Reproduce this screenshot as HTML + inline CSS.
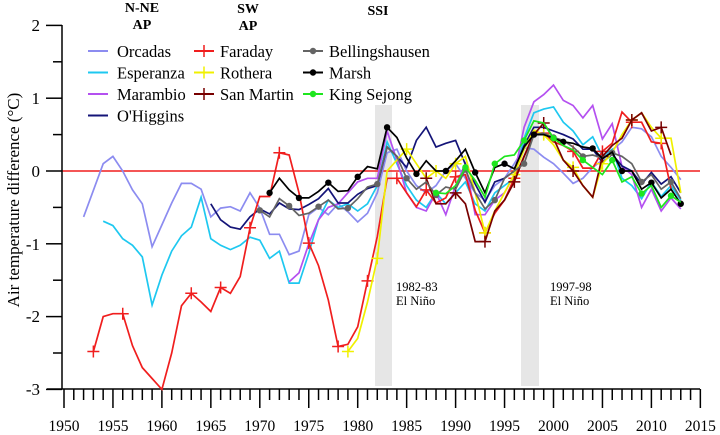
<!DOCTYPE html>
<html><head><meta charset="utf-8"><style>
html,body{margin:0;padding:0;background:#fff;}
svg{display:block;font-family:"Liberation Serif",serif;}
</style></head><body>
<svg id="s" width="720" height="435" viewBox="0 0 720 435" xmlns="http://www.w3.org/2000/svg">
<rect x="0" y="0" width="720" height="435" fill="#fff"/>
<rect x="375" y="105" width="17" height="281" fill="#e6e6e6"/>
<rect x="521" y="105" width="18" height="281" fill="#e6e6e6"/>
<line x1="62" y1="171" x2="700" y2="171" stroke="#f01e1e" stroke-width="1.5"/>
<g id="axes" stroke="#000" stroke-width="1.5" fill="none"></g>
<g id="series"></g>
<g font-size="17" text-anchor="end" fill="#000">
<text x="40" y="31">2</text><text x="40" y="104">1</text><text x="40" y="177">0</text>
<text x="40" y="250">-1</text><text x="40" y="322">-2</text><text x="40" y="395">-3</text>
</g>
<g id="xl" font-size="15.5" text-anchor="middle" fill="#000"></g>
<text transform="translate(19,200) rotate(-90)" font-size="17" text-anchor="middle">Air temperature difference (°C)</text>
<g font-size="14" font-weight="bold" text-anchor="middle">
<text x="142" y="12">N-NE</text><text x="142" y="29">AP</text>
<text x="248" y="13">SW</text><text x="248" y="30">AP</text>
<text x="378" y="15">SSI</text>
</g>
<g font-size="12.5">
<text x="396" y="291">1982-83</text><text x="396" y="305">El Niño</text>
<text x="550" y="291">1997-98</text><text x="550" y="305">El Niño</text>
</g>
<g id="leg" font-size="16.5"></g>
</svg>
<script>
var NS="http://www.w3.org/2000/svg";
function X(y){return 64+9.79*(y-1950);}
function Y(v){return 171-72.8*v;}
function el(t,a,p){var e=document.createElementNS(NS,t);for(var k in a)e.setAttribute(k,a[k]);p.appendChild(e);return e;}
var ax=document.getElementById('axes');
el('line',{x1:62,y1:25,x2:62,y2:389},ax);
el('line',{x1:47,y1:389,x2:700,y2:389},ax);
for(var v=-3;v<=2;v+=0.5){var maj=(v%1===0);el('line',{x1:maj?46:53,y1:Y(v),x2:62,y2:Y(v)},ax);}
var xl=document.getElementById('xl');
for(var yr=1950;yr<=2015;yr++){var m=(yr%5===0);el('line',{x1:X(yr),y1:389,x2:X(yr),y2:m?408:400},ax);
 if(m){var t=el('text',{x:X(yr),y:431},xl);t.textContent=yr;}}
function ser(start,vals){return vals.map(function(v,i){return [start+i,v];});}
var S=[
{c:"#8c8cf0",m:"",d:[[1952,-0.63],[1954,0.1],[1955,0.2],[1956,0],[1957,-0.26],[1958,-0.45],[1959,-1.04],[1960,-0.74],[1961,-0.44],[1962,-0.17],[1963,-0.17],[1964,-0.25],[1965,-0.63],[1966,-0.51],[1967,-0.49],[1968,-0.55],[1969,-0.3],[1970,-0.51],[1971,-0.87],[1972,-0.87],[1973,-1.15],[1974,-1.1],[1975,-0.6],[1976,-0.5],[1977,-0.6],[1978,-0.45],[1979,-0.56],[1980,-0.7],[1981,-0.58],[1982,-0.3],[1983,0.25],[1984,0.3],[1985,0.0],[1986,-0.2],[1987,-0.3],[1988,-0.2],[1989,0.0],[1990,0.1],[1991,-0.1],[1992,-0.3],[1993,-0.4],[1994,-0.2],[1995,-0.1],[1996,0.1],[1997,0.32],[1998,0.3],[1999,0.19],[2000,0.1],[2001,-0.03],[2002,-0.17],[2003,-0.1],[2004,0.05],[2005,0.15],[2006,0.29],[2007,0.4],[2008,0.6],[2009,0.58],[2010,0.47],[2011,0.2],[2012,0.05],[2013,-0.12]]},
{c:"#1ec8f0",m:"",d:ser(1954,[-0.69,-0.75,-0.93,-1.02,-1.18,-1.84,-1.43,-1.1,-0.89,-0.77,-0.36,-0.93,-1.02,-1.08,-1.02,-0.91,-0.95,-1.2,-1.1,-1.54,-1.54,-1.13,-0.67,-0.4,-0.5,-0.45,-0.55,-0.45,-0.2,0.4,0.1,-0.2,-0.4,-0.5,-0.3,-0.45,-0.3,-0.15,-0.45,-0.55,-0.3,-0.2,-0.1,0.45,0.8,0.85,0.88,0.67,0.55,0.36,0.47,0.2,0.3,-0.1,-0.2,-0.38,-0.15,-0.35,-0.2,-0.4])},
{c:"#b450f0",m:"",d:ser(1973,[-1.52,-1.4,-1.0,-0.67,-0.5,-0.45,-0.3,-0.15,-0.1,-0.1,0.55,0.15,-0.3,-0.5,-0.55,-0.3,-0.6,-0.2,0.1,-0.6,-0.6,-0.4,-0.3,-0.05,0.6,0.95,1.05,1.18,0.97,0.9,0.73,0.9,0.44,0.65,0.06,-0.05,-0.5,-0.25,-0.55,-0.37,-0.52])},
{c:"#141478",m:"",d:ser(1965,[-0.45,-0.67,-0.77,-0.8,-0.63,-0.52,-0.59,-0.44,-0.52,-0.53,-0.46,-0.38,-0.24,-0.44,-0.44,-0.32,-0.24,-0.2,0.33,0.2,0.05,0.42,0.6,0.33,0.38,0.42,0.09,-0.18,-0.43,-0.15,-0.1,0.0,0.35,0.6,0.6,0.55,0.5,0.44,0.3,0.3,0.12,0.23,0.07,0.0,-0.18,-0.02,-0.18,-0.08,-0.3])},
{c:"#f01e1e",m:"+",d:ser(1953,[-2.48,-2.0,-1.96,-1.96,-2.4,-2.7,-2.85,-3.0,-2.5,-1.85,-1.68,-1.8,-1.93,-1.6,-1.68,-1.45,-0.78,-0.35,-0.35,0.25,0.22,-0.3,-0.99,-1.3,-1.77,-2.41,-2.38,-2.14,-1.51,-0.9,-0.1,-0.1,-0.3,-0.49,-0.26,-0.44,-0.37,-0.08,-0.05,-0.54,-0.85,-0.58,-0.4,-0.1,0.2,0.52,0.52,0.4,0.35,0.27,0.04,0.04,0.27,0.38,0.81,0.67,0.67,0.4,0.38,-0.24]),mk:[1953,1956,1963,1966,1969,1972,1975,1978,1981,1984,1987,1990,1993,1996,1999,2002,2005,2008,2011]},
{c:"#f0f000",m:"+",d:ser(1979,[-2.48,-2.3,-1.8,-1.2,0.0,0.15,0.3,0.1,-0.1,0.0,-0.1,0.1,0.2,-0.3,-0.85,-0.55,-0.3,-0.05,0.3,0.56,0.5,0.36,0.15,0.05,-0.2,-0.36,0.1,0.25,0.5,0.7,0.8,0.6,0.45,0.45,-0.3]),mk:[1979,1982,1985,1988,1990,1993,1996,1999,2002,2005,2008,2011]},
{c:"#780000",m:"+",d:ser(1987,[-0.1,-0.45,-0.45,-0.3,-0.45,-0.97,-0.97,-0.55,-0.4,-0.15,0.2,0.5,0.66,0.45,0.15,0.0,-0.2,-0.36,0.2,0.35,0.45,0.7,0.8,0.55,0.6,0.22]),mk:[1987,1990,1993,1996,1999,2002,2005,2008,2011]},
{c:"#646464",m:"o",d:ser(1970,[-0.54,-0.63,-0.38,-0.48,-0.61,-0.58,-0.49,-0.4,-0.52,-0.51,-0.38,-0.22,-0.18,0.33,0.2,-0.1,-0.25,-0.15,-0.33,-0.22,-0.25,0.02,-0.3,-0.52,-0.4,-0.1,0.0,0.1,0.5,0.52,0.46,0.42,0.33,0.2,0.22,0.18,0.25,0.2,0.1,-0.15,-0.05,-0.25,-0.15,-0.38]),mk:[1970,1973,1976,1979,1982,1985,1988,1991,1994,1997,2000,2003,2006,2009,2012]},
{c:"#000000",m:"o",d:ser(1971,[-0.3,-0.1,-0.26,-0.37,-0.37,-0.28,-0.16,-0.28,-0.27,-0.08,0.06,0.03,0.6,0.46,0.18,-0.04,0.14,0.0,0.0,0.14,0.3,-0.02,-0.3,0.05,0.1,0.03,0.33,0.5,0.5,0.45,0.4,0.38,0.33,0.31,0.17,0.26,0.0,0.0,-0.25,-0.16,-0.37,-0.25,-0.45]),mk:[1971,1974,1977,1980,1983,1986,1989,1992,1995,1998,2001,2004,2007,2010,2013]},
{c:"#1ee61e",m:"o",d:ser(1988,[-0.3,-0.31,-0.2,0.05,-0.13,-0.36,0.1,0.2,0.22,0.42,0.69,0.66,0.45,0.35,0.29,0.15,0.05,-0.05,0.15,-0.15,-0.08,-0.31,-0.2,-0.5,-0.34,-0.43]),mk:[1988,1991,1994,1997,2000,2003,2006,2009,2012]}
];
var g=document.getElementById('series');
function mark(type,x,y,c,p){if(type==="+"){el('path',{d:"M"+(x-6)+" "+y+"H"+(x+6)+"M"+x+" "+(y-6)+"V"+(y+6),stroke:c,"stroke-width":1.5,fill:"none"},p);}
 else if(type==="o"){el('circle',{cx:x,cy:y,r:3.2,fill:c},p);}}
S.forEach(function(s){var d=s.d.map(function(p,i){return (i?"L":"M")+X(p[0]).toFixed(1)+" "+Y(p[1]).toFixed(1);}).join("");
 el('path',{d:d,stroke:s.c,"stroke-width":1.7,fill:"none","stroke-linejoin":"miter"},g);
 if(s.mk){s.d.forEach(function(p){if(s.mk.indexOf(p[0])>=0)mark(s.m,X(p[0]),Y(p[1]),s.c,g);});}});
var L=[["Orcadas","#8c8cf0","",88,117,0],["Esperanza","#1ec8f0","",88,117,1],["Marambio","#b450f0","",88,117,2],["O'Higgins","#141478","",88,117,3],
["Faraday","#f01e1e","+",194,220,0],["Rothera","#f0f000","+",194,220,1],["San Martin","#780000","+",194,220,2],
["Bellingshausen","#646464","o",303,329,0],["Marsh","#000000","o",303,329,1],["King Sejong","#1ee61e","o",303,329,2]];
var lg=document.getElementById('leg');
L.forEach(function(l){var cy=51+21.5*l[5];el('line',{x1:l[3],y1:cy,x2:l[3]+20,y2:cy,stroke:l[1],"stroke-width":2},lg);
 if(l[2])mark(l[2],l[3]+10,cy,l[1],lg);var t=el('text',{x:l[4],y:cy+6},lg);t.textContent=l[0];});
</script>
</body></html>
